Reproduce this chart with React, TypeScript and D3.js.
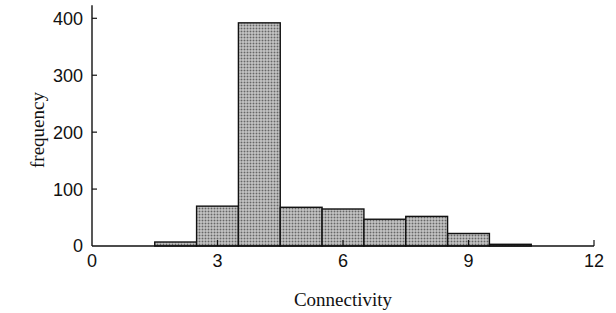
import React from 'react'
import * as d3 from 'd3'

// histogram bins (lower edge, upper edge) and counts
const binStarts = [1.5, 2.5, 3.5, 4.5, 5.5, 6.5, 7.5, 8.5, 9.5]
const binWidth = 1
const counts = [7, 70, 392, 68, 65, 47, 52, 22, 3]
const xTicks = [0, 3, 6, 9, 12]
const yTicks = [0, 100, 200, 300, 400]

const width = 616
const height = 313

const App = () => {
    const xScale = d3.scaleLinear().domain([0, 12]).range([92, 594])
    const yScale = d3.scaleLinear().domain([0, 400]).range([246, 18.3])
    const yTop = yScale(423)

    return (
        <svg
            width={width}
            height={height}
            viewBox={`0 0 ${width} ${height}`}
            style={{ position: 'absolute', left: 0, top: 0, background: '#fff' }}
        >
            <defs>
                <pattern id="dots" width="3" height="3" patternUnits="userSpaceOnUse">
                    <rect width="3" height="3" fill="#dcdcdc" />
                    <rect x="0.5" y="0.5" width="2" height="2" fill="#666" />
                </pattern>
            </defs>

            {binStarts.map((b, i) => (
                <rect
                    key={i}
                    x={xScale(b)}
                    y={yScale(counts[i])}
                    width={xScale(b + binWidth) - xScale(b)}
                    height={yScale(0) - yScale(counts[i])}
                    fill="url(#dots)"
                    stroke="#111"
                    strokeWidth={1.4}
                />
            ))}

            {/* axes */}
            <line x1={xScale(0)} x2={xScale(0)} y1={yScale(0)} y2={yTop} stroke="#111" strokeWidth={1.4} />
            <line x1={xScale(0)} x2={xScale(12)} y1={yScale(0)} y2={yScale(0)} stroke="#111" strokeWidth={1.4} />

            {yTicks.map(t => (
                <g key={t}>
                    {t > 0 && (
                        <line x1={xScale(0)} x2={xScale(0) + 5} y1={yScale(t)} y2={yScale(t)} stroke="#111" strokeWidth={1.2} />
                    )}
                    <text
                        x={83}
                        y={yScale(t)}
                        dy="0.36em"
                        textAnchor="end"
                        fontFamily="Liberation Sans, Arial, sans-serif"
                        fontSize={18}
                        fill="#111"
                    >
                        {t}
                    </text>
                </g>
            ))}

            {xTicks.map(t => (
                <g key={t}>
                    {t > 0 && (
                        <line x1={xScale(t)} x2={xScale(t)} y1={yScale(0)} y2={yScale(0) - 6} stroke="#111" strokeWidth={1.2} />
                    )}
                    <text
                        x={xScale(t)}
                        y={267}
                        textAnchor="middle"
                        fontFamily="Liberation Sans, Arial, sans-serif"
                        fontSize={18}
                        fill="#111"
                    >
                        {t}
                    </text>
                </g>
            ))}

            <text
                x={343}
                y={306}
                textAnchor="middle"
                fontFamily="Liberation Serif, Times New Roman, serif"
                fontSize={19}
                fill="#111"
            >
                Connectivity
            </text>
            <text
                transform={`translate(44, 130) rotate(-90)`}
                textAnchor="middle"
                fontFamily="Liberation Serif, Times New Roman, serif"
                fontSize={19}
                fill="#111"
            >
                frequency
            </text>
        </svg>
    )
}

export default App
